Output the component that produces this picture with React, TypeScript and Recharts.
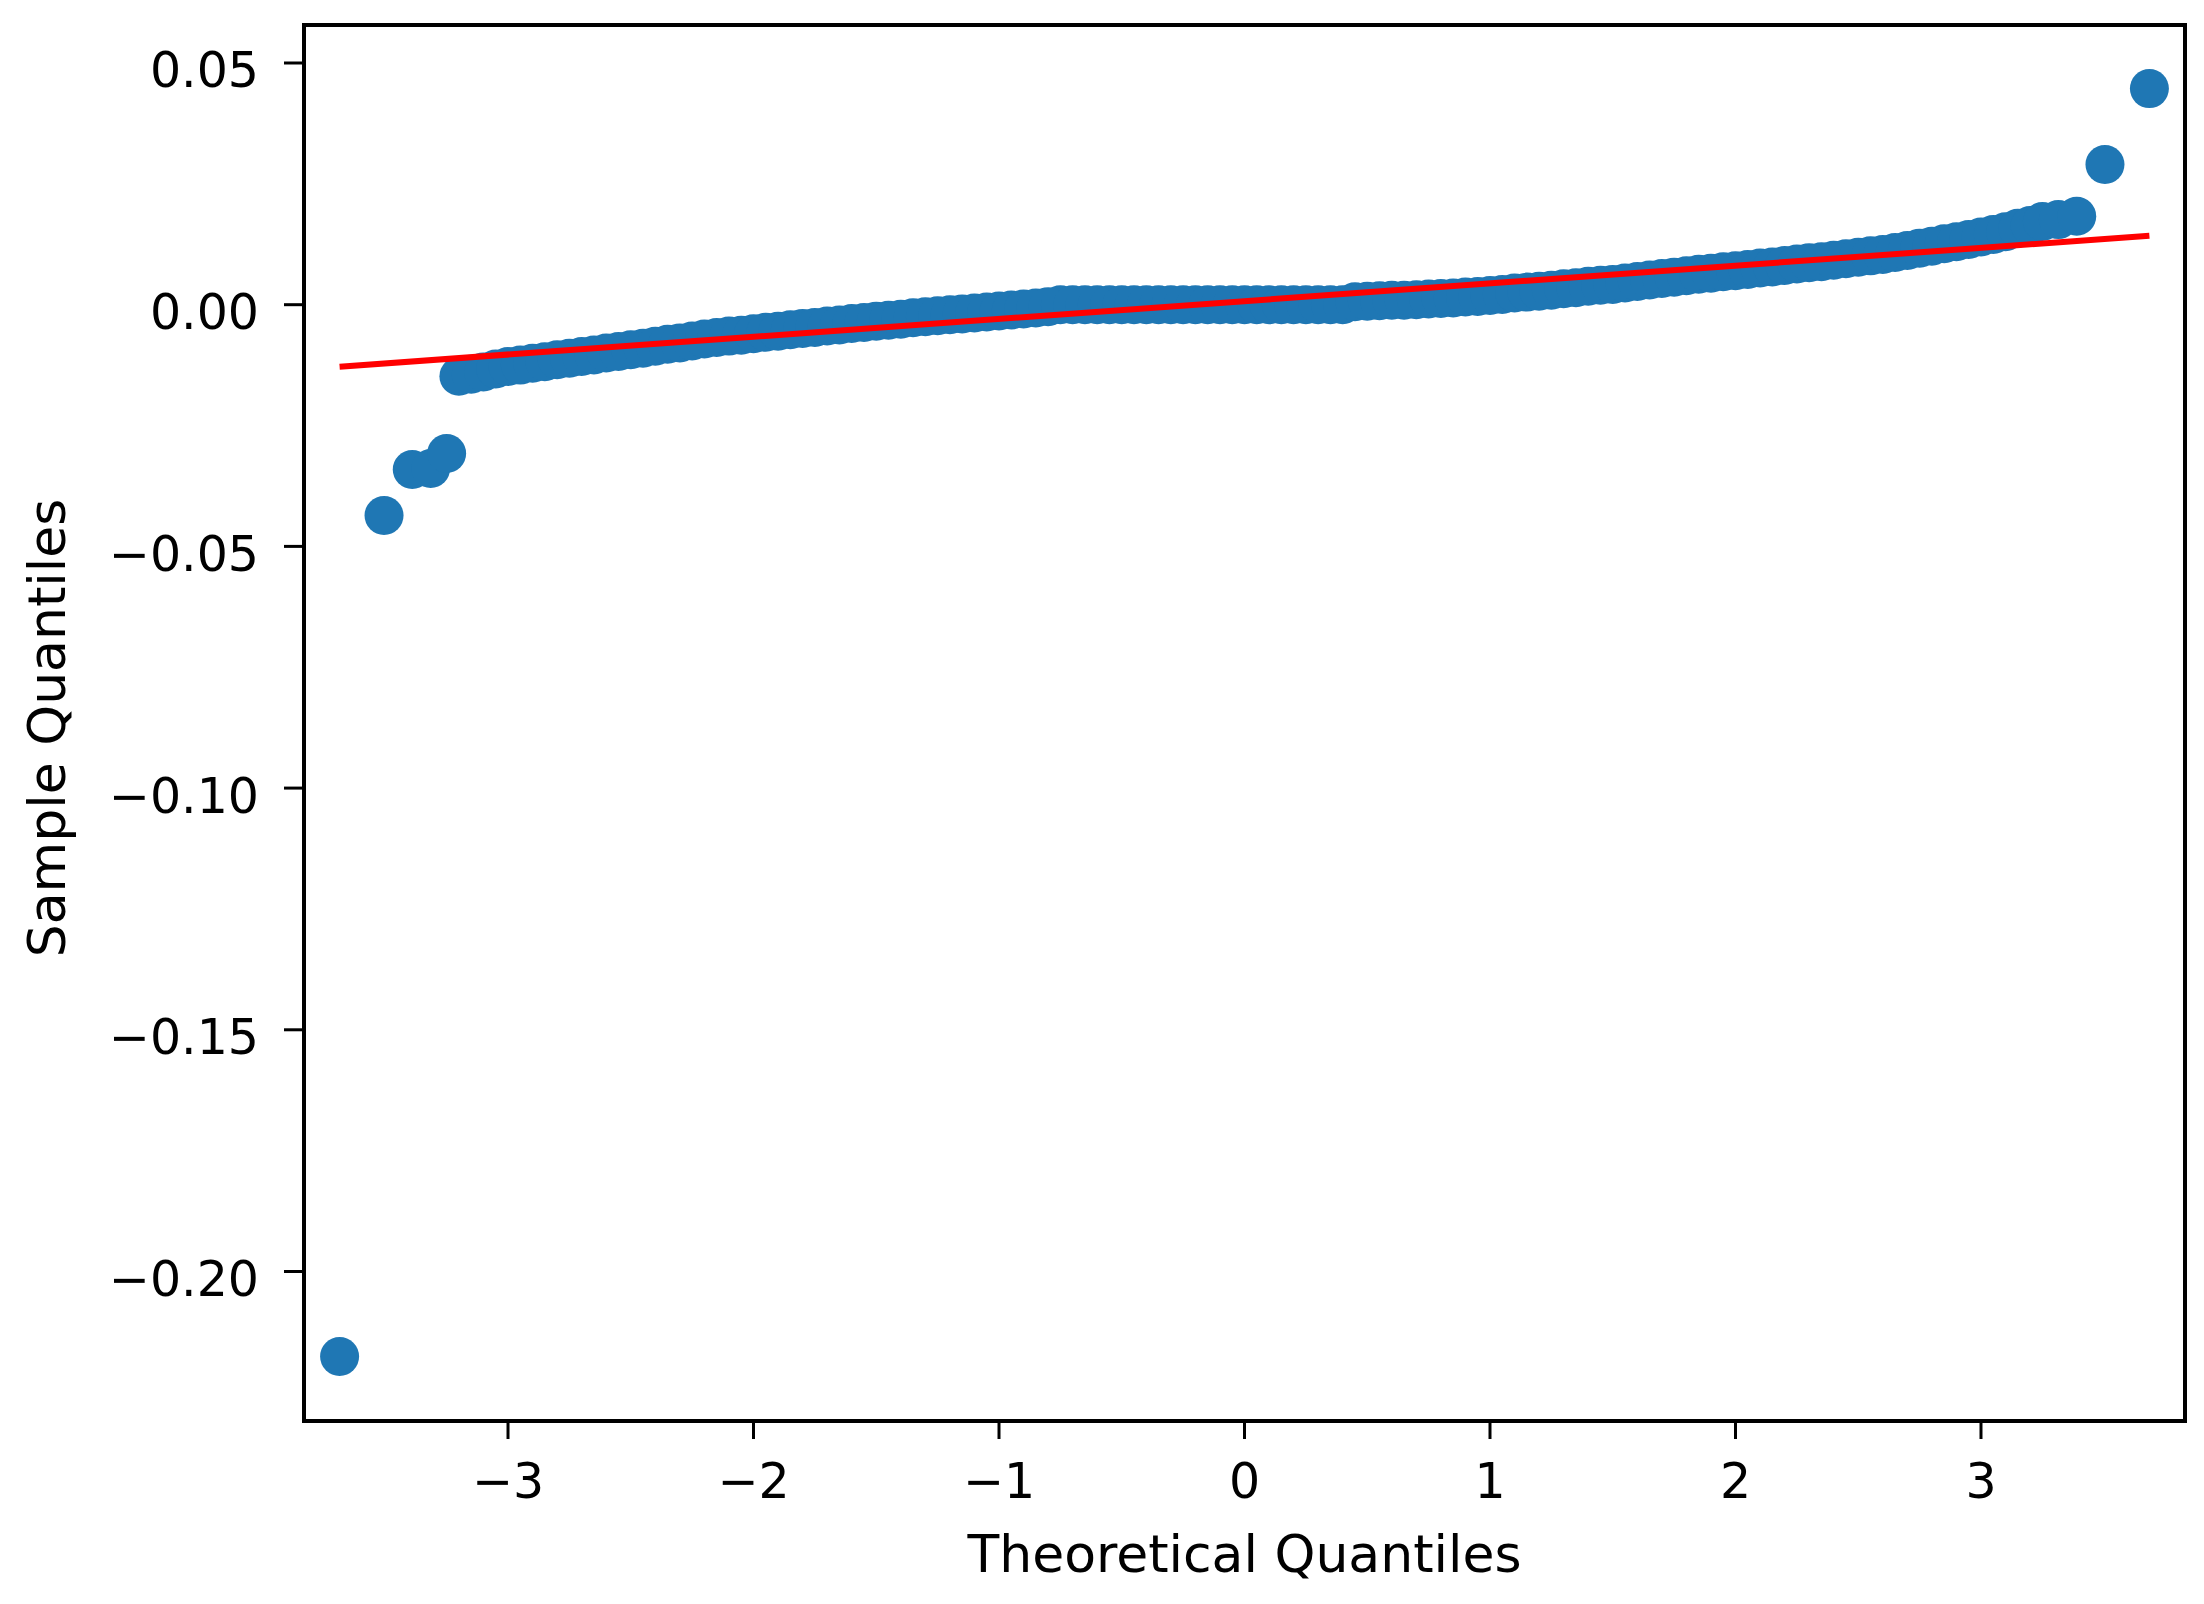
import React from 'react';
import { ScatterChart, Scatter, XAxis, YAxis, ReferenceArea } from 'recharts';

// Theoretical quantiles (x) and sample quantiles (y)
const theoreticalQ = [
  -3.686, -3.505, -3.39, -3.315, -3.25,
  -3.20, -3.15, -3.10, -3.05, -3.00, -2.95, -2.90, -2.85, -2.80, -2.75,
  -2.70, -2.65, -2.60, -2.55, -2.50, -2.45, -2.40, -2.35, -2.30, -2.25,
  -2.20, -2.15, -2.10, -2.05, -2.00, -1.95, -1.90, -1.85, -1.80, -1.75,
  -1.70, -1.65, -1.60, -1.55, -1.50, -1.45, -1.40, -1.35, -1.30, -1.25,
  -1.20, -1.15, -1.10, -1.05, -1.00, -0.95, -0.90, -0.85, -0.80, -0.75,
  -0.70, -0.65, -0.60, -0.55, -0.50, -0.45, -0.40, -0.35, -0.30, -0.25,
  -0.20, -0.15, -0.10, -0.05, 0.00, 0.05, 0.10, 0.15, 0.20, 0.25,
  0.30, 0.35, 0.40, 0.45, 0.50, 0.55, 0.60, 0.65, 0.70, 0.75,
  0.80, 0.85, 0.90, 0.95, 1.00, 1.05, 1.10, 1.15, 1.20, 1.25,
  1.30, 1.35, 1.40, 1.45, 1.50, 1.55, 1.60, 1.65, 1.70, 1.75,
  1.80, 1.85, 1.90, 1.95, 2.00, 2.05, 2.10, 2.15, 2.20, 2.25,
  2.30, 2.35, 2.40, 2.45, 2.50, 2.55, 2.60, 2.65, 2.70, 2.75,
  2.80, 2.85, 2.90, 2.95, 3.00, 3.05, 3.10, 3.15, 3.20, 3.25,
  3.315, 3.39, 3.505, 3.686,
];

const sampleQ = [
  -0.2176, -0.0436, -0.0341, -0.0339, -0.0308,
  -0.0148, -0.0144, -0.0139, -0.0133, -0.0128, -0.0125, -0.0121, -0.0118, -0.0114, -0.0111,
  -0.0107, -0.0104, -0.0100, -0.0097, -0.0093, -0.0090, -0.0086, -0.0082, -0.0079, -0.0075,
  -0.0071, -0.0068, -0.0065, -0.0063, -0.0060, -0.0057, -0.0055, -0.0052, -0.0049, -0.0047,
  -0.0044, -0.0042, -0.0039, -0.0037, -0.0034, -0.0032, -0.0030, -0.0027, -0.0025, -0.0023,
  -0.0021, -0.0019, -0.0017, -0.0015, -0.0013, -0.0011, -0.0009, -0.0007, -0.0004, 0.0,
  0.0, 0.0, 0.0, 0.0, 0.0, 0.0, 0.0, 0.0, 0.0, 0.0,
  0.0, 0.0, 0.0, 0.0, 0.0, 0.0, 0.0, 0.0, 0.0, 0.0,
  0.0, 0.0, 0.0, 0.0006, 0.0007, 0.0008, 0.0009, 0.0009, 0.0010, 0.0012,
  0.0013, 0.0014, 0.0016, 0.0017, 0.0019, 0.0021, 0.0024, 0.0026, 0.0028, 0.0030,
  0.0033, 0.0035, 0.0038, 0.0040, 0.0042, 0.0045, 0.0048, 0.0051, 0.0054, 0.0057,
  0.0060, 0.0063, 0.0065, 0.0068, 0.0070, 0.0073, 0.0076, 0.0078, 0.0081, 0.0084,
  0.0087, 0.0089, 0.0092, 0.0095, 0.0098, 0.0101, 0.0104, 0.0108, 0.0112, 0.0117,
  0.0121, 0.0126, 0.0130, 0.0135, 0.0140, 0.0145, 0.0151, 0.0158, 0.0164, 0.0172,
  0.0176, 0.0183, 0.0290, 0.0447,
];

// Fitted reference line end points
const fitLineX = [-3.686, 3.686];
const fitLineY = [-0.01283, 0.01427];

const xTickValues = [-3, -2, -1, 0, 1, 2, 3];
const xTickLabels = ['−3', '−2', '−1', '0', '1', '2', '3'];
const yTickValues = [0.05, 0, -0.05, -0.1, -0.15, -0.2];
const yTickLabels = ['0.05', '0.00', '−0.05', '−0.10', '−0.15', '−0.20'];

const xDomain = [-3.831, 3.831];
const yDomain = [-0.23093, 0.05786];

const xLabel = 'Theoretical Quantiles';
const yLabel = 'Sample Quantiles';

const points = theoreticalQ.map((x, i) => ({ x, y: sampleQ[i] }));
const fitLine = fitLineX.map((x, i) => ({ x, y: fitLineY[i] }));

const FONT = '"DejaVu Sans", "Liberation Sans", sans-serif';
const BLUE = '#1f77b4';

const lookup = (vals: number[], labels: string[], v: number) => {
  const i = vals.findIndex((t) => Math.abs(t - v) < 1e-9);
  return i >= 0 ? labels[i] : String(v);
};

const XTick = (props: any) => {
  const { x, y, payload } = props;
  return (
    <text x={x} y={y} dy={58.5} textAnchor="middle" fontFamily={FONT} fontSize={49} fill="#000">
      {lookup(xTickValues, xTickLabels, payload.value)}
    </text>
  );
};

const YTick = (props: any) => {
  const { x, y, payload } = props;
  return (
    <text x={x} y={y} dy={24.5} textAnchor="end" fontFamily={FONT} fontSize={49} fill="#000">
      {lookup(yTickValues, yTickLabels, payload.value)}
    </text>
  );
};

const Dot = (props: any) => {
  const { cx, cy } = props;
  if (cx == null || cy == null) return <g />;
  return <circle cx={cx} cy={cy} r={19.5} fill={BLUE} />;
};

const NoDot = () => <g />;

const XLabel = (props: any) => {
  const vb = props.viewBox || { x: 304, y: 1421, width: 1881, height: 183 };
  return (
    <text x={vb.x + vb.width / 2} y={vb.y + 151} textAnchor="middle" fontFamily={FONT} fontSize={52} fill="#000">
      {xLabel}
    </text>
  );
};

const YLabel = (props: any) => {
  const vb = props.viewBox || { x: 0, y: 25, width: 304, height: 1396 };
  const cx = 65;
  const cy = vb.y + vb.height / 2 + 5;
  return (
    <text x={cx} y={cy} transform={`rotate(-90 ${cx} ${cy})`} textAnchor="middle" fontFamily={FONT} fontSize={52} fill="#000">
      {yLabel}
    </text>
  );
};

const axisLine = { stroke: '#000', strokeWidth: 4 };
const tickLine = { stroke: '#000', strokeWidth: 3 };

export default function App() {
  return (
    <div style={{ position: 'absolute', left: 0, top: 0, width: 2204, height: 1604, background: '#fff' }}>
      <ScatterChart width={2204} height={1604} margin={{ top: 25, right: 19, bottom: 0, left: 0 }}>
        <XAxis
          dataKey="x"
          type="number"
          domain={xDomain}
          ticks={xTickValues}
          allowDataOverflow
          height={183}
          tickSize={18}
          tickMargin={0}
          axisLine={axisLine}
          tickLine={tickLine}
          tick={<XTick />}
          label={{ content: (p: any) => <XLabel {...p} /> }}
          interval={0}
        />
        <YAxis
          dataKey="y"
          type="number"
          domain={yDomain}
          ticks={yTickValues}
          allowDataOverflow
          width={304}
          tickSize={20}
          tickMargin={25}
          axisLine={axisLine}
          tickLine={tickLine}
          tick={<YTick />}
          label={{ content: (p: any) => <YLabel {...p} /> }}
          interval={0}
        />
        <Scatter data={points} fill={BLUE} shape={<Dot />} isAnimationActive={false} />
        <Scatter
          data={fitLine}
          fill="#ff0000"
          line={{ stroke: '#ff0000', strokeWidth: 6 }}
          shape={<NoDot />}
          isAnimationActive={false}
        />
        <ReferenceArea
          x1={xDomain[0]}
          x2={xDomain[1]}
          y1={yDomain[0]}
          y2={yDomain[1]}
          fill="none"
          fillOpacity={0}
          stroke="#000"
          strokeWidth={4}
          ifOverflow="visible"
        />
      </ScatterChart>
    </div>
  );
}
